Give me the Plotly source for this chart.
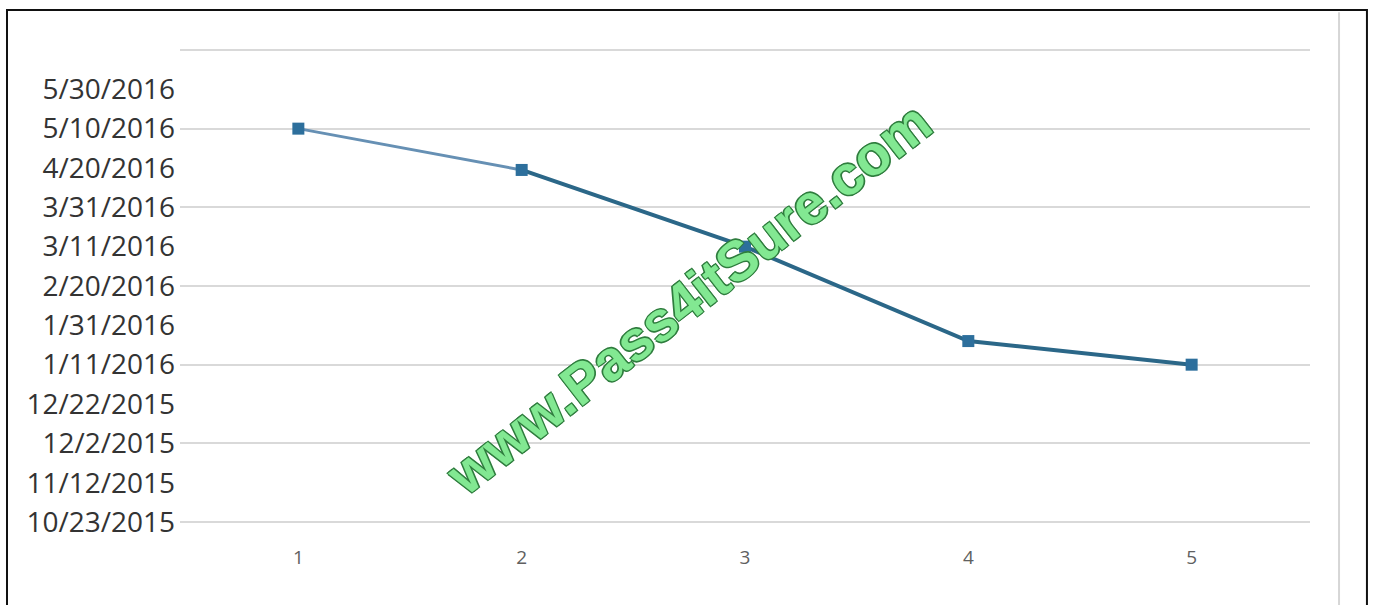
import plotly.graph_objects as go

# ---- data ----
x_vals = [1, 2, 3, 4, 5]
y_dates = ["2016-05-10", "2016-04-19", "2016-03-11", "2016-01-23", "2016-01-11"]

y_tick_dates = ["2015-10-23", "2015-11-12", "2015-12-02", "2015-12-22",
                "2016-01-11", "2016-01-31", "2016-02-20", "2016-03-11",
                "2016-03-31", "2016-04-20", "2016-05-10", "2016-05-30"]
y_tick_text = ["10/23/2015", "11/12/2015", "12/2/2015", "12/22/2015",
               "1/11/2016", "1/31/2016", "2/20/2016", "3/11/2016",
               "3/31/2016", "4/20/2016", "5/10/2016", "5/30/2016"]
y_grid_dates = ["2015-10-23", "2015-12-02", "2016-01-11", "2016-02-20",
                "2016-03-31", "2016-05-10", "2016-06-19"]
y_range = ["2015-10-22", "2016-06-20"]
x_range = [0.47, 5.53]
watermark = "www.Pass4itSure.com"

fig = go.Figure()
fig.add_trace(go.Scatter(
    x=x_vals[:2], y=y_dates[:2], mode="lines",
    line=dict(color="#6690b4", width=3), showlegend=False, hoverinfo="skip"))
fig.add_trace(go.Scatter(
    x=x_vals[1:], y=y_dates[1:], mode="lines",
    line=dict(color="#2b6788", width=4), showlegend=False, hoverinfo="skip"))
fig.add_trace(go.Scatter(
    x=x_vals, y=y_dates, mode="markers",
    marker=dict(symbol="square", size=12, color="#2d6f9c"),
    showlegend=False))

fig.update_layout(
    width=1373, height=605,
    margin=dict(l=180, r=63, t=48, b=81),
    paper_bgcolor="white", plot_bgcolor="white",
    font=dict(family="Open Sans", color="#333333"),
    xaxis=dict(range=x_range, tickmode="array", tickvals=x_vals,
               ticktext=[str(v) for v in x_vals],
               showgrid=False, zeroline=False, showline=False,
               tickfont=dict(size=19, color="#606060"),
               ticklabelstandoff=20),
    yaxis=dict(type="date", range=y_range, tickmode="array",
               tickvals=y_tick_dates, ticktext=y_tick_text,
               showgrid=False, zeroline=False, showline=False,
               tickfont=dict(size=28, color="#333333"),
               ticklabelstandoff=4,
               minor=dict(tickmode="array", tickvals=y_grid_dates,
                          showgrid=True, gridcolor="#d9d9d9", gridwidth=2,
                          ticks="")),
    shapes=[
        dict(type="line", xref="paper", yref="paper",
             x0=1.0257, x1=1.0257, y0=-0.2, y1=1.075,
             line=dict(color="#d6d6d6", width=2)),
        dict(type="rect", xref="paper", yref="paper",
             x0=-0.1531, x1=1.0504, y0=-0.2, y1=1.08,
             line=dict(color="#111111", width=2), fillcolor="rgba(0,0,0,0)",
             layer="above"),
    ],
    annotations=[
        dict(text=watermark, xref="paper", yref="paper",
             x=0.4496, y=0.4746, xanchor="center", yanchor="middle",
             showarrow=False, textangle=-38,
             font=dict(family="Liberation Sans", size=56, weight="bold",
                       color="#82e892",
                       shadow="1.2px 1.2px 0 #2f7d3e, -1.2px -1.2px 0 #2f7d3e, "
                              "1.2px -1.2px 0 #2f7d3e, -1.2px 1.2px 0 #2f7d3e"))
    ],
)

fig.write_html("out.html")
